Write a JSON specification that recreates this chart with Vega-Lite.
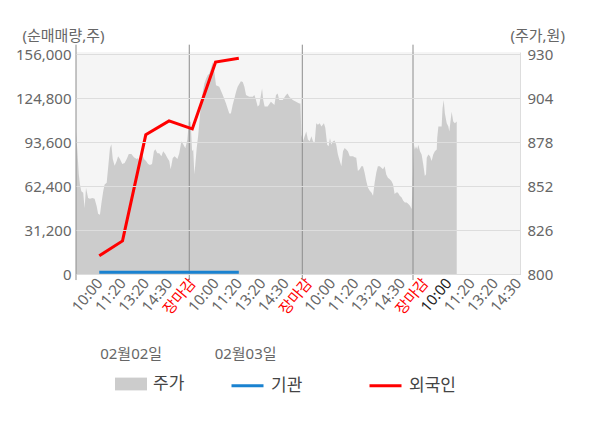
{
  "$schema": "https://vega.github.io/schema/vega-lite/v6.json",
  "width": 444,
  "height": 222,
  "autosize": {"type": "none"},
  "padding": {"left": 76, "top": 52, "right": 80, "bottom": 154},
  "background": "white",
  "config": {
    "view": {"fill": "#f5f5f5", "stroke": null},
    "font": "Noto Sans, Noto Sans CJK KR"
  },
  "datasets": {
    "price": [
      {"t":0.00,"price":884.3},{"t":0.06,"price":872.6},{"t":0.12,"price":859},{"t":0.17,"price":853},
      {"t":0.23,"price":849},{"t":0.31,"price":848},{"t":0.37,"price":839},{"t":0.43,"price":851},
      {"t":0.52,"price":845},{"t":0.60,"price":844.5},{"t":0.70,"price":845},{"t":0.80,"price":844.5},
      {"t":0.89,"price":840},{"t":0.95,"price":835.7},{"t":1.03,"price":835},{"t":1.09,"price":841.6},
      {"t":1.17,"price":849},{"t":1.23,"price":853},{"t":1.32,"price":854},{"t":1.38,"price":862.7},
      {"t":1.46,"price":874.4},{"t":1.52,"price":876.7},{"t":1.58,"price":868},{"t":1.66,"price":864},
      {"t":1.75,"price":866.8},{"t":1.81,"price":869.7},{"t":1.89,"price":868},{"t":1.99,"price":865},
      {"t":2.09,"price":865.6},{"t":2.18,"price":868},{"t":2.27,"price":870.9},{"t":2.38,"price":870.9},
      {"t":2.49,"price":869},{"t":2.61,"price":868},{"t":2.67,"price":868.6},{"t":2.75,"price":864},
      {"t":2.84,"price":870.9},{"t":2.92,"price":868},{"t":3.01,"price":866.8},{"t":3.10,"price":865},
      {"t":3.18,"price":864.4},{"t":3.27,"price":865},{"t":3.35,"price":872.6},{"t":3.41,"price":873.8},
      {"t":3.50,"price":871.4},{"t":3.58,"price":871.4},{"t":3.67,"price":869.7},{"t":3.75,"price":872.6},
      {"t":3.84,"price":870.9},{"t":3.93,"price":868.6},{"t":4.01,"price":866.8},{"t":4.07,"price":862},
      {"t":4.16,"price":868.6},{"t":4.24,"price":869.7},{"t":4.36,"price":868},{"t":4.44,"price":871.4},
      {"t":4.53,"price":878.5},{"t":4.61,"price":876.7},{"t":4.70,"price":874.4},{"t":4.79,"price":879.6},
      {"t":4.85,"price":890},{"t":4.93,"price":890},{"t":4.99,"price":872.6},{"t":5.04,"price":873.6},
      {"t":5.09,"price":859},{"t":5.13,"price":864.8},{"t":5.19,"price":874.5},{"t":5.25,"price":881.4},
      {"t":5.30,"price":889.2},{"t":5.37,"price":900},{"t":5.45,"price":907.7},{"t":5.52,"price":912.6},
      {"t":5.59,"price":915.5},{"t":5.66,"price":917.5},{"t":5.73,"price":918.5},{"t":5.80,"price":921.4},
      {"t":5.88,"price":925.3},{"t":5.95,"price":919.5},{"t":6.02,"price":911.7},{"t":6.16,"price":910.7},
      {"t":6.31,"price":905.8},{"t":6.45,"price":900.9},{"t":6.59,"price":895},{"t":6.66,"price":895},
      {"t":6.74,"price":900.3},{"t":6.81,"price":903.8},{"t":6.88,"price":907.7},{"t":6.95,"price":910.7},
      {"t":7.02,"price":912.4},{"t":7.09,"price":914},{"t":7.17,"price":913.6},{"t":7.24,"price":910.7},
      {"t":7.31,"price":905.8},{"t":7.45,"price":904.8},{"t":7.60,"price":904.8},{"t":7.67,"price":905.8},
      {"t":7.74,"price":902.9},{"t":7.81,"price":899},{"t":7.88,"price":900},{"t":8.00,"price":909.7},
      {"t":8.05,"price":902.9},{"t":8.11,"price":899},{"t":8.24,"price":899},{"t":8.38,"price":901.9},
      {"t":8.53,"price":900},{"t":8.60,"price":905.8},{"t":8.67,"price":906.8},{"t":8.74,"price":902.9},
      {"t":8.89,"price":902.9},{"t":9.03,"price":905.8},{"t":9.10,"price":906.8},{"t":9.17,"price":904.8},
      {"t":9.32,"price":902.9},{"t":9.46,"price":901.9},{"t":9.60,"price":900.9},{"t":9.65,"price":900.9},
      {"t":9.69,"price":882.4},{"t":9.76,"price":878.5},{"t":9.83,"price":881.4},{"t":9.90,"price":884.3},
      {"t":9.97,"price":879.5},{"t":10.05,"price":878.5},{"t":10.12,"price":881.4},{"t":10.19,"price":878.5},
      {"t":10.26,"price":877.5},{"t":10.33,"price":889.2},{"t":10.40,"price":888.2},{"t":10.48,"price":889.2},
      {"t":10.55,"price":887.3},{"t":10.66,"price":889.2},{"t":10.72,"price":886.3},{"t":10.80,"price":876.5},
      {"t":10.86,"price":875.5},{"t":10.92,"price":880.4},{"t":10.98,"price":876.5},{"t":11.05,"price":878.5},
      {"t":11.12,"price":878.9},{"t":11.19,"price":876.5},{"t":11.26,"price":870.7},{"t":11.34,"price":866.8},
      {"t":11.41,"price":863.8},{"t":11.48,"price":872.6},{"t":11.55,"price":874.5},{"t":11.62,"price":873.6},
      {"t":11.69,"price":872.6},{"t":11.77,"price":869.7},{"t":11.91,"price":869.7},{"t":11.98,"price":869.1},
      {"t":12.05,"price":868.7},{"t":12.12,"price":860.9},{"t":12.20,"price":861.9},{"t":12.27,"price":863.8},
      {"t":12.34,"price":863.8},{"t":12.41,"price":859.9},{"t":12.48,"price":855},{"t":12.55,"price":851.1},
      {"t":12.63,"price":849.2},{"t":12.70,"price":848.2},{"t":12.77,"price":846.3},{"t":12.84,"price":854},
      {"t":12.91,"price":859.9},{"t":12.98,"price":863.8},{"t":13.06,"price":863.8},{"t":13.13,"price":862.8},
      {"t":13.20,"price":861.9},{"t":13.27,"price":863.8},{"t":13.34,"price":858.9},{"t":13.41,"price":857},
      {"t":13.49,"price":856},{"t":13.56,"price":855},{"t":13.63,"price":853.1},{"t":13.70,"price":847.3},
      {"t":13.77,"price":848.2},{"t":13.84,"price":848.2},{"t":13.92,"price":846.3},{"t":14.00,"price":845.3},
      {"t":14.07,"price":843.3},{"t":14.14,"price":842.3},{"t":14.22,"price":842.3},{"t":14.29,"price":841.4},
      {"t":14.36,"price":840.4},{"t":14.43,"price":838.5},{"t":14.47,"price":853},{"t":14.53,"price":876.5},
      {"t":14.57,"price":873.6},{"t":14.62,"price":875.5},{"t":14.67,"price":873.6},{"t":14.72,"price":876.5},
      {"t":14.79,"price":872.6},{"t":14.86,"price":870.7},{"t":14.93,"price":864.8},{"t":15.00,"price":858},
      {"t":15.05,"price":859},{"t":15.08,"price":868.7},{"t":15.15,"price":870.7},{"t":15.22,"price":869.7},
      {"t":15.29,"price":866.8},{"t":15.36,"price":870.7},{"t":15.43,"price":872.6},{"t":15.51,"price":873.6},
      {"t":15.53,"price":880.4},{"t":15.58,"price":887.3},{"t":15.65,"price":887.3},{"t":15.72,"price":887.3},
      {"t":15.76,"price":898},{"t":15.81,"price":902.9},{"t":15.86,"price":895},{"t":15.94,"price":889.2},
      {"t":16.01,"price":887.3},{"t":16.05,"price":884.3},{"t":16.11,"price":891.2},{"t":16.15,"price":896},
      {"t":16.22,"price":890.2},{"t":16.29,"price":889.2},{"t":16.37,"price":890.2}
    ],
    "flow": [
      {"t":1,"series":"기관","qty":1200},{"t":2,"series":"기관","qty":1200},{"t":3,"series":"기관","qty":1200},
      {"t":4,"series":"기관","qty":1200},{"t":5,"series":"기관","qty":1200},{"t":6,"series":"기관","qty":1200},
      {"t":7,"series":"기관","qty":1200},
      {"t":1,"series":"외국인","qty":12900},{"t":2,"series":"외국인","qty":23500},{"t":3,"series":"외국인","qty":98800},
      {"t":4,"series":"외국인","qty":108700},{"t":5,"series":"외국인","qty":103000},{"t":6,"series":"외국인","qty":150400},
      {"t":7,"series":"외국인","qty":153200}
    ],
    "days": [{"t":0},{"t":4.87},{"t":9.73},{"t":14.49}]
  },
  "layer": [
    {
      "data": {"name": "price"},
      "mark": {"type": "area"},
      "encoding": {
        "x": {
          "field": "t",
          "type": "quantitative",
          "scale": {"domain": [0, 19.09], "nice": false, "zero": false},
          "axis": {
            "orient": "bottom",
            "values": [1,2,3,4,5,6,7,8,9,10,11,12,13,14,15,16,17,18,19],
            "labelExpr": "['10:00','11:20','13:20','14:30','장마감'][(datum.value - 1) % 5]",
            "labelAngle": -50,
            "labelAlign": "right",
            "labelBaseline": "middle",
            "labelFontSize": 15,
            "labelColor": {"expr": "datum.value % 5 == 0 ? '#ff0000' : (datum.value == 16 ? '#222222' : '#666666')"},
            "labelPadding": 6,
            "labelOverlap": false,
            "labelFlush": false,
            "ticks": false,
            "tickSize": 0,
            "grid": false,
            "domainColor": "#999999",
            "title": null
          }
        },
        "y": {
          "field": "price",
          "type": "quantitative",
          "scale": {"domain": [800, 931.3], "nice": false, "zero": false},
          "axis": {
            "orient": "right",
            "values": [800, 826, 852, 878, 904, 930],
            "grid": false,
            "domain": true,
            "domainColor": "#dddddd",
            "ticks": false,
            "labelPadding": 7,
            "labelFontSize": 15,
            "labelColor": "#666666",
            "labelFlush": false,
            "title": "(주가,원)",
            "titleAngle": 0,
            "titleAlign": "left",
            "titleBaseline": "middle",
            "titleX": -10,
            "titleY": -17,
            "titleFontSize": 15,
            "titleFontWeight": "normal",
            "titleColor": "#666666"
          }
        },
        "y2": {"datum": 800},
        "fill": {
          "datum": "주가",
          "type": "nominal",
          "scale": {"domain": ["주가"], "range": ["#cccccc"]},
          "legend": {
            "orient": "none",
            "legendX": 39,
            "legendY": 316,
            "title": null,
            "symbolType": "M-1,-0.4L1,-0.4L1,0.4L-1,0.4Z",
            "symbolSize": 1024,
            "symbolStrokeWidth": 0,
            "labelFontSize": 17,
            "labelColor": "#444444",
            "labelOffset": 6
          }
        }
      }
    },
    {
      "data": {"name": "days"},
      "mark": {"type": "rule", "color": "#8c8c8c", "strokeWidth": 1},
      "encoding": {
        "x": {
          "field": "t",
          "type": "quantitative",
          "scale": {"domain": [0, 19.09], "nice": false, "zero": false},
          "axis": null
        },
        "y": {
          "datum": -4300,
          "type": "quantitative",
          "scale": {"domain": [0, 157600], "nice": false, "zero": true},
          "axis": null
        },
        "y2": {"datum": 162800}
      }
    },
    {
      "data": {"name": "flow"},
      "mark": {"type": "line", "strokeWidth": 3},
      "encoding": {
        "x": {
          "field": "t",
          "type": "quantitative",
          "scale": {"domain": [0, 19.09], "nice": false, "zero": false},
          "axis": {
            "orient": "bottom",
            "values": [2.35, 7.27],
            "labelExpr": "datum.value < 5 ? '02월02일' : '02월03일'",
            "offset": 79,
            "domain": false,
            "ticks": false,
            "tickSize": 0,
            "grid": false,
            "labelPadding": 0,
            "labelAngle": 0,
            "labelAlign": "center",
            "labelBaseline": "middle",
            "labelFontSize": 15,
            "labelColor": "#666666",
            "labelFlush": false,
            "labelOverlap": false,
            "title": null
          }
        },
        "y": {
          "field": "qty",
          "type": "quantitative",
          "scale": {"domain": [0, 157600], "nice": false, "zero": true},
          "axis": {
            "orient": "left",
            "values": [0, 31200, 62400, 93600, 124800, 156000],
            "format": ",d",
            "grid": true,
            "gridColor": "#dddddd",
            "domain": false,
            "ticks": false,
            "labelPadding": 5,
            "labelFontSize": 15,
            "labelColor": "#666666",
            "labelFlush": false,
            "zindex": 1,
            "title": "(순매매량,주)",
            "titleAngle": 0,
            "titleAlign": "left",
            "titleBaseline": "middle",
            "titleX": -54,
            "titleY": -17,
            "titleFontSize": 15,
            "titleFontWeight": "normal",
            "titleColor": "#666666"
          }
        },
        "stroke": {
          "field": "series",
          "type": "nominal",
          "scale": {"domain": ["기관", "외국인"], "range": ["#1a82d0", "#ff0000"]},
          "legend": {
            "orient": "none",
            "legendX": 154,
            "legendY": 316,
            "direction": "horizontal",
            "title": null,
            "symbolType": "stroke",
            "symbolSize": 1024,
            "symbolStrokeWidth": 3,
            "labelFontSize": 17,
            "labelColor": "#444444",
            "labelOffset": 6,
            "columnPadding": 60
          }
        }
      }
    }
  ],
  "resolve": {"scale": {"y": "independent"}, "axis": {"x": "independent"}}
}
